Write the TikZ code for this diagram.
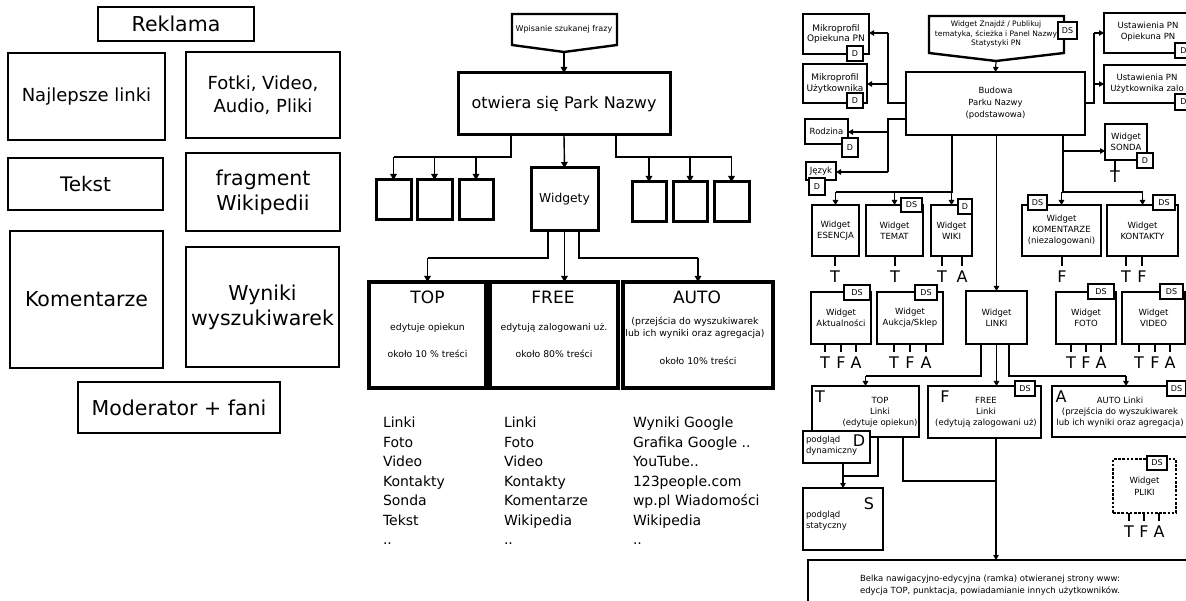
\documentclass[tikz,border=0pt]{standalone}
\usepackage{fontspec}
\setmainfont{DejaVu Sans}
\usetikzlibrary{arrows.meta}
\newcommand\mybx[7][]{%
 \pgfmathsetmacro\bxcx{(#3+#5)/2}\pgfmathsetmacro\bxcy{(#4+#6)/2}%
 \pgfmathsetmacro\bxw{#5-#3}\pgfmathsetmacro\bxh{#6-#4}%
 \node[#1, minimum width=\bxw pt, minimum height=\bxh pt] (#2) at (\bxcx,\bxcy) {#7};}
\newcommand\fsz[2]{\fontsize{#1}{#2}\selectfont}
\newcommand\ltr[5]{\node[big] (#1) at (#2,#3) {#4}; \draw[tick] (#5.south -| #1.north) -- (#1.north);}
\begin{document}
\begin{tikzpicture}[x=1pt,y=-1pt,
 every node/.style={inner sep=0pt, outer sep=0pt},
 thinbox/.style={draw, line width=1.8pt, fill=white, align=center},
 thickbox/.style={draw, line width=3pt, fill=white, align=center},
 wbox/.style={draw, line width=2.6pt, fill=white, align=center, font=\fsz{8.5}{11}},
 dotbox/.style={draw, line width=2.6pt, dash pattern=on 2.6pt off 1.6pt, fill=white, align=center, font=\fsz{8.5}{12}},
 tag/.style={draw, line width=1.1pt, fill=white, font=\fsz{8}{9}},
 ln/.style={line width=1.4pt},
 arr/.style={line width=1.4pt, -{Triangle[length=6pt,width=6.5pt]}},
 sarr/.style={line width=1.2pt, -{Triangle[length=5pt,width=5.5pt]}},
 tick/.style={line width=1.2pt, shorten >=5pt},
 big/.style={font=\fsz{16}{16}},
 txt/.style={align=center, font=\fsz{8.5}{11}},
]
\useasboundingbox (0,0) rectangle (1186,601);
\clip (0,0) rectangle (1186,601);

% ---------------- LEFT PANEL ----------------
\mybx[thinbox, font=\fsz{20.5}{25}]{rek}{98}{7}{254}{41}{Reklama}
\mybx[thinbox, font=\fsz{18}{23}]{nl}{8}{53}{165}{140}{Najlepsze linki}
\mybx[thinbox, font=\fsz{18}{23}]{fv}{186}{52}{340}{138}{Fotki, Video,\\Audio, Pliki}
\mybx[thinbox, font=\fsz{20}{25}]{tk}{8}{158}{163}{210}{Tekst}
\mybx[thinbox, font=\fsz{20.5}{25}]{fw}{186}{153}{340}{231}{fragment\\Wikipedii}
\mybx[thinbox, font=\fsz{20.5}{25}]{km}{10}{231}{163}{368}{Komentarze}
\mybx[thinbox, font=\fsz{20.5}{25}]{ww}{186}{247}{339}{367}{Wyniki\\wyszukiwarek}
\mybx[thinbox, font=\fsz{20.5}{25}]{mf}{78}{382}{280}{433}{Moderator + fani}

% ---------------- MIDDLE PANEL ----------------
\draw[line width=2.4pt, fill=white] (512,14) -- (617,14) -- (617,45) -- (564,52) -- (512,45) -- cycle;
\node[font=\fsz{8}{10}] (wp) at (564,29) {Wpisanie szukanej frazy};
\coordinate (wptip) at (564,52);
\mybx[thickbox, font=\fsz{16}{18}]{otw}{458}{73}{670}{135}{otwiera się Park Nazwy}
\draw[arr] (wptip) -- (otw.north);

\mybx[thickbox]{sb1}{376}{180}{411}{220}{}
\mybx[thickbox]{sb2}{417}{180}{452}{220}{}
\mybx[thickbox]{sb3}{459}{180}{493}{220}{}
\mybx[thickbox]{sb4}{632}{182}{666}{222}{}
\mybx[thickbox]{sb5}{673}{182}{707}{222}{}
\mybx[thickbox]{sb6}{714}{182}{749}{222}{}
\mybx[thickbox, font=\fsz{12.3}{14}]{wid}{531}{168}{598}{231}{Widgety}

\coordinate (ml) at (511,157);
\coordinate (mr) at (616,157);
\draw[ln] (ml |- otw.south) -- (ml) -- (ml -| sb1.north);
\foreach \n in {sb1,sb2,sb3} \draw[arr] (ml -| \n.north) -- (\n.north);
\draw[ln] (mr |- otw.south) -- (mr) -- (mr -| sb6.north);
\foreach \n in {sb4,sb5,sb6} \draw[arr] (mr -| \n.north) -- (\n.north);
\draw[arr] (otw.south) -- (wid.north);

\mybx[thickbox, line width=3.4pt]{btop}{369}{282}{486}{388}{}
\mybx[thickbox, line width=3.4pt]{bfree}{490}{282}{618}{388}{}
\mybx[thickbox, line width=3.4pt]{bauto}{623}{282}{773}{388}{}

\coordinate (wl) at (548,258);
\coordinate (wr) at (579,258);
\draw[ln] (wl |- wid.south) -- (wl) -- (wl -| btop.north);
\draw[arr] (wl -| btop.north) -- (btop.north);
\draw[arr] (wid.south) -- (wid.south |- bfree.north);
\draw[ln] (wr |- wid.south) -- (wr) -- (wr -| bauto.north);
\draw[arr] (wr -| bauto.north) -- (bauto.north);

\node[font=\fsz{17}{17}] (topt) at (427.5,297) {TOP};
\node[font=\fsz{9.3}{12}] (tops1) at (427.5,328) {edytuje opiekun};
\node[font=\fsz{9.3}{12}] (tops2) at (427.5,354) {około 10 \% treści};
\node[font=\fsz{17}{17}] (freet) at (553,297) {FREE};
\node[font=\fsz{9.3}{12}] (frees1) at (554,328) {edytują zalogowani uż.};
\node[font=\fsz{9.3}{12}] (frees2) at (554,354) {około 80\% treści};
\node[font=\fsz{17}{17}] (autot) at (697,297) {AUTO};
\node[align=center, font=\fsz{9.3}{12}] (autos1) at (695,328) {(przejścia do wyszukiwarek\\lub ich wyniki oraz agregacja)};
\node[font=\fsz{9.3}{12}] (autos2) at (698,361) {około 10\% treści};

\node[anchor=north west, align=left, font=\fsz{14}{19.5}] (list1) at (383,417) {Linki\\Foto\\Video\\Kontakty\\Sonda\\Tekst\\..};
\node[anchor=north west, align=left, font=\fsz{14}{19.5}] (list2) at (504,417) {Linki\\Foto\\Video\\Kontakty\\Komentarze\\Wikipedia\\..};
\node[anchor=north west, align=left, font=\fsz{14}{19.5}] (list3) at (633,417) {Wyniki Google\\Grafika Google ..\\YouTube..\\123people.com\\wp.pl Wiadomości\\Wikipedia\\..};

% ---------------- RIGHT PANEL ----------------
\draw[line width=2.4pt, fill=white] (929,16) -- (1064,16) -- (1064,53) -- (996,61) -- (929,53) -- cycle;
\node[align=center, font=\fsz{7.5}{9.5}] (wz) at (996,34) {Widget Znajdź / Publikuj\\tematyka, ścieżka i Panel Nazwy\\Statystyki PN};
\coordinate (wztip) at (996,61);
\mybx[tag]{wzd}{1058}{22}{1077}{39}{DS}
\mybx[wbox, font=\fsz{8.5}{12}]{bud}{906}{72}{1085}{135}{Budowa\\Parku Nazwy\\(podstawowa)}
\draw[sarr] (wztip) -- (bud.north);

\mybx[wbox, font=\fsz{9}{10.5}]{mo}{803}{14}{869}{54}{Mikroprofil\\Opiekuna PN}
\mybx[tag]{mod}{847}{46}{863}{61}{D}
\mybx[wbox, font=\fsz{9}{10.5}]{mu}{803}{64}{867}{103}{Mikroprofil\\Użytkownika}
\mybx[tag]{mud}{847}{93}{863}{108}{D}
\mybx[wbox]{uo}{1104}{13}{1200}{53}{}
\node[txt] (uot) at (1148,32) {Ustawienia PN\\Opiekuna PN};
\mybx[tag]{uod}{1175}{43}{1192}{58}{D}
\mybx[wbox]{uu}{1104}{65}{1200}{103}{}
\node[txt] (uut) at (1147,83.5) {Ustawienia PN\\Użytkownika zalo};
\mybx[tag]{uud}{1175}{94}{1192}{110}{D}
\mybx[wbox]{rd}{805}{119}{848}{144}{Rodzina}
\mybx[tag]{rdd}{842}{138}{858}{157}{D}
\mybx[wbox]{jz}{806}{162}{836}{180}{Język}
\mybx[tag]{jzd}{809}{178}{825}{195}{D}
\mybx[wbox]{so}{1105}{124}{1147}{160}{Widget\\SONDA}
\mybx[tag]{sod}{1137}{153}{1153}{168}{D}
\node[big] (soT) at (1115,177) {T};
\draw[line width=1.2pt] (so.south -| soT.north) -- (soT.north);

\coordinate (jA) at (888,103);
\coordinate (jAt) at (888,33);
\coordinate (jAm) at (888,84);
\draw[ln] (jA -| bud.west) -- (jA) -- (jAt);
\draw[sarr] (jAt) -- (jAt -| mo.east);
\draw[sarr] (jAm) -- (jAm -| mu.east);
\coordinate (jB) at (888,119);
\coordinate (jBm) at (888,132);
\coordinate (jBb) at (888,172);
\draw[ln] (jB -| bud.west) -- (jB) -- (jBb);
\draw[sarr] (jBm) -- (jBm -| rd.east);
\draw[sarr] (jBb) -- (jBb -| jz.east);
\coordinate (jR) at (1094,103);
\coordinate (jRt) at (1094,33);
\coordinate (jRm) at (1094,84);
\draw[ln] (jR -| bud.east) -- (jR) -- (jRt);
\draw[sarr] (jRt) -- (jRt -| uo.west);
\draw[sarr] (jRm) -- (jRm -| uu.west);

% row 1
\mybx[wbox]{es}{812}{205}{859}{256}{Widget\\ESENCJA}
\mybx[wbox]{te}{866}{205}{923}{256}{Widget\\TEMAT}
\mybx[tag]{ted}{901}{198}{922}{212}{DS}
\mybx[wbox]{wk}{931}{205}{972}{256}{Widget\\WIKI}
\mybx[tag]{wkd}{958}{199}{972}{214}{D}
\mybx[wbox]{kom}{1022}{205}{1101}{256}{Widget\\KOMENTARZE\\(niezalogowani)}
\mybx[tag]{komd}{1028}{195}{1047}{210}{DS}
\mybx[wbox]{kon}{1107}{205}{1178}{256}{Widget\\KONTAKTY}
\mybx[tag]{kond}{1153}{195}{1175}{210}{DS}

\coordinate (b1) at (952,192);
\draw[ln] (b1 |- bud.south) -- (b1) -- (b1 -| es.north);
\foreach \n in {es,te,wk} \draw[sarr] (b1 -| \n.north) -- (\n.north);
\coordinate (b3) at (1063,192);
\draw[ln] (b3 |- bud.south) -- (b3) -- (b3 -| kon.north);
\foreach \n in {kom,kon} \draw[sarr] (b3 -| \n.north) -- (\n.north);
\coordinate (b3s) at (1063,151);
\draw[sarr] (b3s) -- (b3s -| so.west);

\ltr{esT}{835}{277}{T}{es}
\ltr{teT}{895}{277}{T}{te}
\ltr{wkT}{942}{277}{T}{wk}
\ltr{wkA}{962}{277}{A}{wk}
\ltr{komF}{1062}{277}{F}{kom}
\ltr{konT}{1126}{277}{T}{kon}
\ltr{konF}{1142}{277}{F}{kon}

% row 2
\mybx[wbox]{ak}{811}{292}{871}{344}{Widget\\Aktualności}
\mybx[tag]{akd}{844}{285}{870}{300}{DS}
\mybx[wbox]{au}{877}{292}{943}{344}{Widget\\Aukcja/Sklep}
\mybx[tag]{aud}{915}{285}{937}{300}{DS}
\mybx[wbox]{lk}{966}{291}{1027}{344}{Widget\\LINKI}
\mybx[wbox]{fo}{1056}{292}{1116}{344}{Widget\\FOTO}
\mybx[tag]{fod}{1088}{284}{1114}{299}{DS}
\mybx[wbox]{vi}{1122}{292}{1185}{344}{Widget\\VIDEO}
\mybx[tag]{vid}{1160}{284}{1183}{299}{DS}
\draw[sarr] (bud.south -| lk.north) -- (lk.north);

\ltr{akT}{825}{363}{T}{ak}
\ltr{akF}{841}{363}{F}{ak}
\ltr{akA}{856}{363}{A}{ak}
\ltr{auT}{894}{363}{T}{au}
\ltr{auF}{910}{363}{F}{au}
\ltr{auA}{926}{363}{A}{au}
\ltr{foT}{1071}{363}{T}{fo}
\ltr{foF}{1086}{363}{F}{fo}
\ltr{foA}{1101}{363}{A}{fo}
\ltr{viT}{1139}{363}{T}{vi}
\ltr{viF}{1155}{363}{F}{vi}
\ltr{viA}{1170}{363}{A}{vi}

% row 3
\mybx[wbox]{tl}{812}{386}{919}{437}{}
\node[txt] (tlt) at (880,412) {TOP\\Linki\\(edytuje opiekun)};
\node[big] (tlT) at (820,397) {T};
\mybx[wbox]{fl}{928}{386}{1041}{438}{}
\node[txt] (flt) at (986,412) {FREE\\Linki\\(edytują zalogowani uż)};
\node[big] (flF) at (945,397) {F};
\mybx[tag]{fld}{1015}{381}{1035}{396}{DS}
\mybx[wbox]{al}{1052}{386}{1200}{437}{}
\node[txt] (alt) at (1120,412) {AUTO Linki\\(przejścia do wyszukiwarek\\lub ich wyniki oraz agregacja)};
\node[big] (alA) at (1061,397) {A};
\mybx[tag]{ald}{1167}{381}{1186}{396}{DS}

\coordinate (k1) at (981,376);
\coordinate (k3) at (1009,376);
\draw[ln] (k1 |- lk.south) -- (k1) -- (k1 -| tl.north);
\draw[sarr] (k1 -| tl.north) -- (tl.north);
\draw[sarr] (lk.south) -- (lk.south |- fl.north);
\draw[ln] (k3 |- lk.south) -- (k3) -- (k3 -| al.north);
\draw[sarr] (k3 -| al.north) -- (al.north);

\mybx[wbox]{pd}{803}{431}{870}{463}{}
\node[anchor=west, align=left, font=\fsz{8.5}{11}] (pdt) at (806,446) {podgląd\\dynamiczny};
\node[big] (pdD) at (859,441) {D};
\mybx[wbox]{ps}{803}{488}{883}{550}{}
\node[big] (psS) at (869,504) {S};
\node[anchor=west, align=left, font=\fsz{8.5}{11}] (pst) at (806,521) {podgląd\\statyczny};

\mybx[dotbox]{pl}{1113}{459}{1176}{513}{Widget\\PLIKI}
\mybx[tag]{pld}{1147}{456}{1167}{470}{DS}
\ltr{plT}{1129}{532}{T}{pl}
\ltr{plF}{1144}{532}{F}{pl}
\ltr{plA}{1159}{532}{A}{pl}

\mybx[wbox]{be}{808}{560}{1200}{640}{}
\node[align=center, font=\fsz{8.5}{12}] (bet) at (990,585) {Belka nawigacyjno-edycyjna (ramka) otwieranej strony www:\\edycja TOP, punktacja, powiadamianie innych użytkowników.};

\coordinate (p1) at (843,476);
\coordinate (p2) at (878,476);
\coordinate (p3) at (903,481);
\coordinate (p4) at (996,481);
\draw[sarr] (pd.south -| p1) -- (p1 |- ps.north);
\draw[ln] (p2 |- tl.south) -- (p2) -- (p1);
\draw[ln] (p3 |- tl.south) -- (p3) -- (p4);
\draw[sarr] (fl.south -| p4) -- (p4 |- be.north);
\end{tikzpicture}
\end{document}
